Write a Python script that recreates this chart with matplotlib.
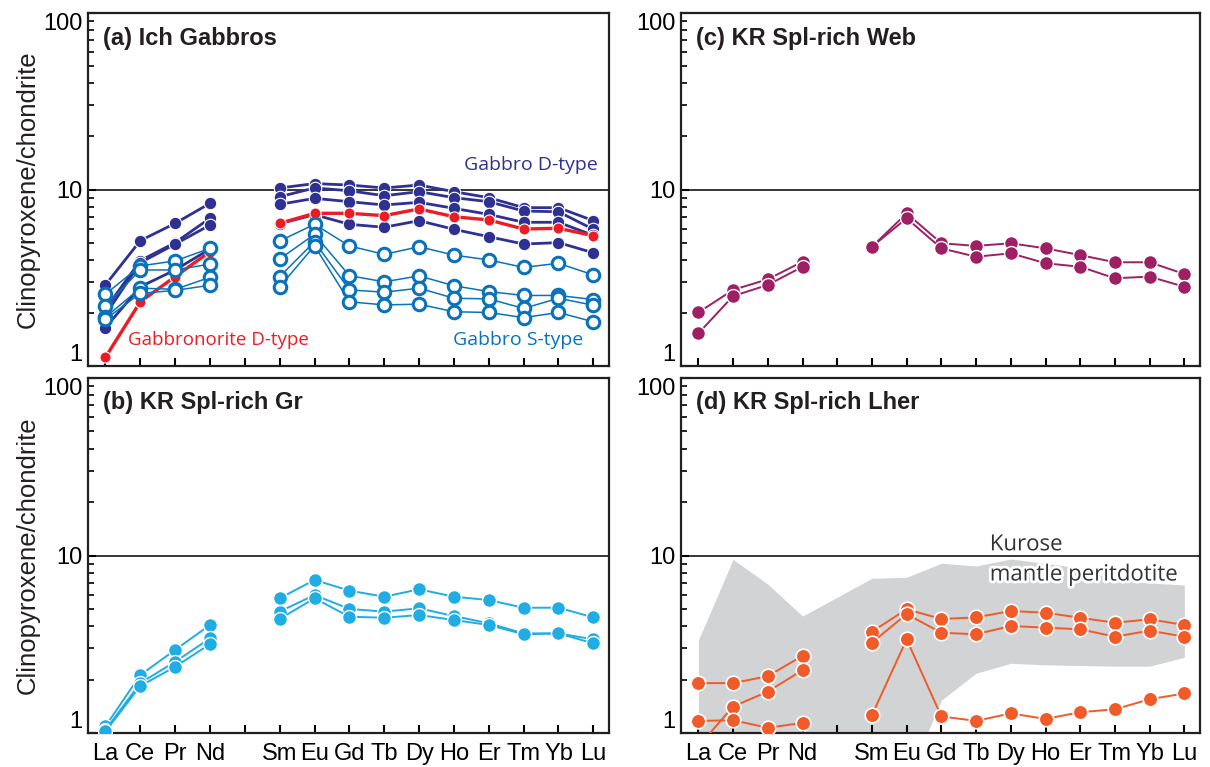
import numpy as np
import matplotlib
matplotlib.use("Agg")
import matplotlib.pyplot as plt
import matplotlib.patheffects as pe

plt.rcParams['font.family'] = ['Liberation Sans', 'DejaVu Sans']

nan = np.nan

# REE order, Pm left empty
ree = ['La', 'Ce', 'Pr', 'Nd', 'Pm', 'Sm', 'Eu', 'Gd', 'Tb', 'Dy', 'Ho', 'Er', 'Tm', 'Yb', 'Lu']
ree_labels = ['La', 'Ce', 'Pr', 'Nd', '', 'Sm', 'Eu', 'Gd', 'Tb', 'Dy', 'Ho', 'Er', 'Tm', 'Yb', 'Lu']

# (a) Ich gabbros
gabbro_d = [
    [2.88, 5.13, 6.43, 8.35, nan, 10.2, 10.8, 10.6, 10.2, 10.6, 9.72, 8.99, 7.89, 7.89, 6.66],
    [2.10, 3.95, 5.00, 6.87, nan, 9.10, 10.2, 9.84, 9.22, 9.72, 8.99, 8.53, 7.55, 7.48, 5.95],
    [1.95, 3.85, 4.90, 6.29, nan, 8.24, 8.91, 8.53, 8.17, 8.46, 7.82, 7.23, 6.52, 6.52, 5.50],
    [1.65, 2.81, 3.50, 4.60, nan, 6.40, 7.20, 6.35, 6.11, 6.66, 5.95, 5.40, 4.91, 5.00, 4.38],
]
gabbronorite_d = [1.12, 2.31, 3.21, 4.44, nan, 6.43, 7.33, 7.33, 7.11, 7.76, 7.01, 6.72, 5.97, 6.03, 5.47]
gabbro_s = [
    [2.55, 3.69, 3.94, 4.64, nan, 5.11, 6.35, 4.79, 4.29, 4.74, 4.25, 3.99, 3.62, 3.82, 3.28],
    [2.19, 3.50, 3.50, 3.78, nan, 4.04, 5.57, 3.25, 3.00, 3.24, 2.85, 2.64, 2.51, 2.51, 2.38],
    [1.89, 2.76, 2.72, 3.18, nan, 3.21, 5.06, 2.70, 2.62, 2.76, 2.42, 2.40, 2.12, 2.42, 2.21],
    [1.84, 2.58, 2.68, 2.87, nan, 2.81, 4.80, 2.31, 2.22, 2.24, 2.03, 2.01, 1.88, 2.01, 1.78],
]

# (b) KR Spl-rich Gr
kr_gr = [
    [1.09, 2.12, 2.94, 4.06, nan, 5.74, 7.28, 6.34, 5.86, 6.45, 5.86, 5.61, 5.08, 5.08, 4.48],
    [1.04, 1.91, 2.52, 3.41, nan, 4.83, 5.99, 5.00, 4.83, 5.04, 4.56, 4.15, 3.64, 3.64, 3.37],
    [1.02, 1.84, 2.36, 3.17, nan, 4.39, 5.74, 4.52, 4.46, 4.62, 4.33, 4.06, 3.60, 3.64, 3.20],
]

# (c) KR Spl-rich Web
kr_web = [
    [2.01, 2.70, 3.10, 3.90, nan, 4.74, 7.33, 4.96, 4.79, 4.96, 4.64, 4.25, 3.87, 3.87, 3.32],
    [1.53, 2.49, 2.88, 3.65, nan, 4.74, 6.87, 4.64, 4.16, 4.35, 3.82, 3.65, 3.14, 3.21, 2.81],
]

# (d) KR Spl-rich Lher
kr_lher = [
    [1.91, 1.91, 2.09, 2.72, nan, 3.72, 4.98, 4.39, 4.48, 4.87, 4.76, 4.46, 4.18, 4.37, 4.06],
    [0.84, 1.41, 1.71, 2.26, nan, 3.23, 4.68, 3.67, 3.60, 4.01, 3.92, 3.84, 3.49, 3.77, 3.49],
    [1.17, 1.18, 1.07, 1.14, nan, 1.26, 3.37, 1.24, 1.17, 1.29, 1.20, 1.31, 1.36, 1.55, 1.67],
]
# Kurose mantle peritdotite field (no Pm)
field_upper = [3.34, 9.5, 6.9, 4.56, 7.44, 7.54, 9.04, 8.73, 9.55, 9.04, 8.5, 7.3, 7.0, 6.82]
field_lower = [0.5, 0.5, 0.5, 0.5, 0.5, 0.53, 1.53, 2.17, 2.47, 2.42, 2.40, 2.38, 2.38, 2.67]

navy = '#2E3192'
red = '#ED1C24'
sblue = '#0A72BA'
cyan = '#1FADE4'
plum = '#9E1F63'
orange = '#F15A29'
gray = '#D1D3D4'

x = np.arange(len(ree))
x_field = np.array([i for i in x if ree[i] != 'Pm'])

fig = plt.figure(figsize=(12.1, 7.67), dpi=100)
ax_a = fig.add_axes([88/1210, 1-366/767, 521/1210, 353/767])
ax_b = fig.add_axes([88/1210, 1-733/767, 521/1210, 355/767])
ax_c = fig.add_axes([681/1210, 1-366/767, 519/1210, 353/767])
ax_d = fig.add_axes([681/1210, 1-733/767, 519/1210, 355/767])


def setup(ax, bottom):
    ax.set_yscale('log')
    ax.set_ylim(1, 100)
    ax.set_xlim(-0.5, 14.45)
    ax.axhline(10, color='black', lw=1.1, zorder=1)
    ax.set_yticks([1, 10, 100])
    ax.set_yticklabels(['1', '10', '100'])
    ax.set_xticks(x)
    if bottom:
        ax.set_xticklabels(ree_labels)
    else:
        ax.set_xticklabels([])
    ax.tick_params(axis='both', which='major', direction='in', length=6, width=1.5,
                   labelsize=17, pad=4)
    ax.tick_params(axis='x', which='major', pad=7)
    ax.tick_params(axis='y', which='minor', direction='in', length=4, width=1.2)
    ax.tick_params(axis='x', which='minor', bottom=False)
    for s in ax.spines.values():
        s.set_linewidth(1.6)
        s.set_color('#231F20')
    labs = ax.get_yticklabels()
    labs[0].set_va('bottom')
    labs[2].set_va('top')


for ax, bottom in [(ax_a, False), (ax_b, True), (ax_c, False), (ax_d, True)]:
    setup(ax, bottom)

# (a)
for row in gabbro_d:
    ax_a.plot(x, row, '-o', color=navy, lw=2, ms=9, mec='white', mew=0.8, zorder=3)
ax_a.plot(x, gabbronorite_d, '-o', color=red, lw=2.4, ms=8, mec='white', mew=0.8, zorder=4)
for row in gabbro_s:
    ax_a.plot(x, row, '-o', color=sblue, lw=1.1, ms=9, mfc='white', mec=sblue, mew=2.2, zorder=5)

# (b)
for row in kr_gr:
    ax_b.plot(x, row, '-o', color=cyan, lw=1.4, ms=10, mec='white', mew=1, zorder=3)

# (c)
for row in kr_web:
    ax_c.plot(x, row, '-o', color=plum, lw=1.4, ms=10, mec='white', mew=1, zorder=3)

# (d)
ax_d.fill_between(x_field, field_lower, field_upper, color=gray, lw=0, zorder=0)
for row in kr_lher:
    ax_d.plot(x, row, '-o', color=orange, lw=1.4, ms=10.5, mec='white', mew=1.2, zorder=3)

title_kw = dict(fontsize=17, fontweight='bold', color='#231F20', ha='left', va='center')
ax_a.text(0.029, 0.929, '(a) Ich Gabbros', transform=ax_a.transAxes, **title_kw)
ax_b.text(0.029, 0.930, '(b) KR Spl-rich Gr', transform=ax_b.transAxes, **title_kw)
ax_c.text(0.029, 0.929, '(c) KR Spl-rich Web', transform=ax_c.transAxes, **title_kw)
ax_d.text(0.029, 0.930, '(d) KR Spl-rich Lher', transform=ax_d.transAxes, **title_kw)

note_kw = dict(family=['Open Sans', 'DejaVu Sans'], va='center')
ax_a.text(0.979, 0.569, 'Gabbro D-type', color=navy, ha='right', fontsize=14,
          transform=ax_a.transAxes, **note_kw)
ax_a.text(0.077, 0.074, 'Gabbronorite D-type', color=red, ha='left', fontsize=13.5,
          transform=ax_a.transAxes, **note_kw)
ax_a.text(0.950, 0.074, 'Gabbro S-type', color=sblue, ha='right', fontsize=14,
          transform=ax_a.transAxes, **note_kw)

stroke = [pe.withStroke(linewidth=4, foreground='white')]
ax_d.text(0.595, 0.530, 'Kurose', color='#333333', ha='left', fontsize=16, transform=ax_d.transAxes,
          path_effects=stroke, zorder=6, **note_kw)
ax_d.text(0.595, 0.445, 'mantle peritdotite', color='#333333', ha='left', fontsize=16,
          transform=ax_d.transAxes, path_effects=stroke, zorder=6, **note_kw)

for ax in (ax_a, ax_b):
    pos = ax.get_position()
    fig.text(28/1210, pos.y0 + pos.height/2, 'Clinopyroxene/chondrite', rotation=90,
             ha='center', va='center', fontsize=18.5, color='#231F20')

fig.savefig('out.png', dpi=100)
